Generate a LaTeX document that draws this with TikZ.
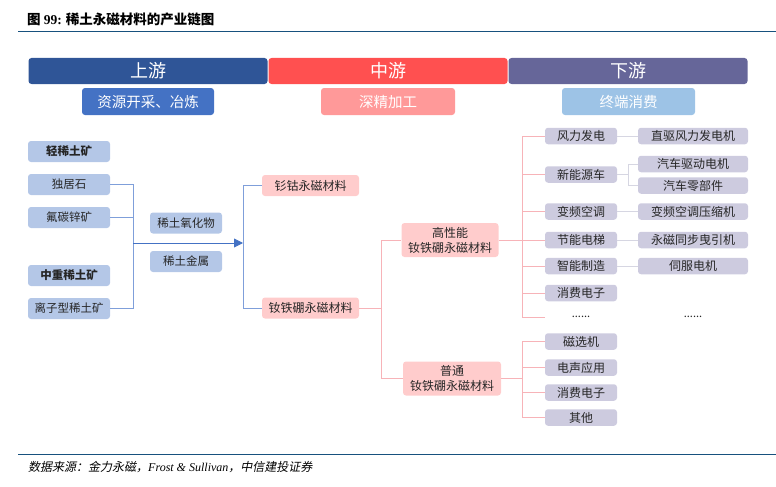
\documentclass[tikz,border=0pt]{standalone}
\usepackage{fontspec}
\setmainfont{Noto Sans CJK SC}
\newfontfamily\latinserif{Liberation Serif}
\newfontfamily\cjkslant{Noto Sans CJK SC}[FakeSlant=0.2]
\usetikzlibrary{arrows.meta}

\definecolor{upblue}{HTML}{2F5597}
\definecolor{midred}{HTML}{FF5050}
\definecolor{downpurple}{HTML}{666699}
\definecolor{subblue}{HTML}{4472C4}
\definecolor{subpink}{HTML}{FF9999}
\definecolor{subsky}{HTML}{9DC3E6}
\definecolor{orefill}{HTML}{B4C7E7}
\definecolor{magfill}{HTML}{FFCCCC}
\definecolor{appfill}{HTML}{CDCBDF}
\definecolor{oreline}{HTML}{7F9FDA}
\definecolor{magline}{HTML}{F7B3B8}
\definecolor{appline}{HTML}{D6D6E2}
\definecolor{rulecol}{HTML}{17517E}
\definecolor{txt}{HTML}{262626}

\begin{document}
\begin{tikzpicture}[x=1pt,y=-1pt,
    bar/.style={rounded corners=3pt,text=white,minimum width=239pt,minimum height=26pt,
      inner sep=0pt,font=\fontsize{18}{18}\selectfont},
    subbar/.style={rounded corners=3pt,text=white,minimum height=27pt,inner sep=0pt,
      font=\fontsize{14.5}{15}\selectfont},
    ore/.style={fill=orefill,rounded corners=3pt,minimum width=82pt,minimum height=21pt,
      inner sep=0pt,text=txt,font=\fontsize{11.5}{12}\selectfont},
    mag/.style={fill=magfill,rounded corners=3pt,minimum width=97pt,minimum height=21pt,
      inner sep=0pt,text=txt,align=center,font=\fontsize{12}{15}\selectfont},
    app/.style={fill=appfill,rounded corners=3pt,minimum width=72pt,minimum height=16.5pt,
      inner sep=0pt,text=txt,font=\fontsize{12}{12}\selectfont},
    appwide/.style={app,minimum width=110pt},
    dots/.style={minimum width=72pt,minimum height=8pt,inner sep=0pt,text=txt,
      font=\fontsize{11}{8}\selectfont},
    oreedge/.style={draw=oreline,line width=0.9pt},
    magedge/.style={draw=magline,line width=0.9pt},
    appedge/.style={draw=appline,line width=0.9pt}]
  \useasboundingbox (0,0) rectangle (776,487);

  % title and rules
  \node[anchor=west,inner sep=0pt,font=\fontsize{13.5}{14}\selectfont\bfseries] (title) at (27,19)
    {图 {\latinserif 99:} 稀土永磁材料的产业链图};
  \draw[rulecol,line width=1.8pt] (18,31.5) -- (776,31.5);
  \draw[rulecol,line width=1.4pt] (18,454.5) -- (776,454.5);
  \node[anchor=west,inner sep=0pt,font=\fontsize{12}{12}\selectfont] (source) at (28,467.5)
    {{\cjkslant 数据来源：金力永磁，}{\latinserif\itshape Frost \& Sullivan}{\cjkslant ，中信建投证券}};

  % headers
  \node[bar,fill=upblue] (up) at (148,71) {上游};
  \node[bar,fill=midred] (mid) at (388,71) {中游};
  \node[bar,fill=downpurple] (down) at (628,71) {下游};
  \node[subbar,fill=subblue,minimum width=132pt] (mining) at (148,101.5) {资源开采、冶炼};
  \node[subbar,fill=subpink,minimum width=134pt] (process) at (388,101.5) {深精加工};
  \node[subbar,fill=subsky,minimum width=133pt] (consume) at (628.5,101.5) {终端消费};

  % upstream
  \node[ore,font=\fontsize{11.5}{12}\selectfont\bfseries] (light) at (69,151.5) {轻稀土矿};
  \node[ore] (monazite) at (69,184.5) {独居石};
  \node[ore] (bastnaesite) at (69,217.5) {氟碳锌矿};
  \node[ore,font=\fontsize{11.5}{12}\selectfont\bfseries] (heavy) at (69,275.5) {中重稀土矿};
  \node[ore] (ionic) at (69,308.5) {离子型稀土矿};
  \node[ore,minimum width=72pt] (oxide) at (186,223) {稀土氧化物};
  \node[ore,minimum width=72pt] (metal) at (186,261.5) {稀土金属};

  \coordinate (jore) at (133,243);
  \coordinate (jmag) at (243,243);
  \draw[oreedge] (monazite.east) -| (jore);
  \draw[oreedge] (bastnaesite.east) -| (jore);
  \draw[oreedge] (ionic.east) -| (jore);
  \draw[oreedge,-{Triangle[length=9pt,width=9pt]},subblue] (jore) -- (jmag);

  % midstream
  \node[mag] (smco) at (310.5,185.5) {钐钴永磁材料};
  \node[mag] (ndfeb) at (310.5,308) {钕铁硼永磁材料};
  \node[mag,minimum height=34pt] (highperf) at (450,240) {高性能\\钕铁硼永磁材料};
  \node[mag,minimum height=34pt,minimum width=98pt] (common) at (452,378.5) {普通\\钕铁硼永磁材料};
  \draw[oreedge] (jmag) |- (smco.west);
  \draw[oreedge] (jmag) |- (ndfeb.west);

  \coordinate (jnd) at (381,308);
  \draw[magedge] (ndfeb.east) -- (jnd);
  \draw[magedge] (jnd) |- (highperf.west);
  \draw[magedge] (jnd) |- (common.west);

  % downstream, high performance
  \node[app] (wind) at (581,136) {风力发电};
  \node[app] (car) at (581,174.5) {新能源车};
  \node[app] (aircon) at (581,211.5) {变频空调};
  \node[app] (lift) at (581,240) {节能电梯};
  \node[app] (robot) at (581,266) {智能制造};
  \node[app] (phone) at (581,293) {消费电子};
  \node[dots] (more) at (581,317) {......};

  \node[appwide] (windmotor) at (693,136) {直驱风力发电机};
  \node[appwide] (drivemotor) at (693,164) {汽车驱动电机};
  \node[appwide] (carparts) at (693,185.5) {汽车零部件};
  \node[appwide] (compressor) at (693,211.5) {变频空调压缩机};
  \node[appwide] (traction) at (693,240) {永磁同步曳引机};
  \node[appwide] (servo) at (693,266) {伺服电机};
  \node[dots,minimum width=110pt] (moreuse) at (693,317) {......};

  \coordinate (jhigh) at (522,240);
  \draw[magedge] (highperf.east) -- (jhigh);
  \draw[magedge] (jhigh) |- (wind.west);
  \draw[magedge] (jhigh) |- (car.west);
  \draw[magedge] (jhigh) |- (aircon.west);
  \draw[magedge] (jhigh) |- (lift.west);
  \draw[magedge] (jhigh) |- (robot.west);
  \draw[magedge] (jhigh) |- (phone.west);
  \draw[magedge] (jhigh) |- (more.west);

  \coordinate (jcar) at (628,174.5);
  \draw[appedge] (wind.east) -- (windmotor.west);
  \draw[appedge] (car.east) -- (jcar);
  \draw[appedge] (jcar) |- (drivemotor.west);
  \draw[appedge] (jcar) |- (carparts.west);
  \draw[appedge] (aircon.east) -- (compressor.west);
  \draw[appedge] (lift.east) -- (traction.west);
  \draw[appedge] (robot.east) -- (servo.west);

  % downstream, common
  \node[app] (separator) at (581,341.5) {磁选机};
  \node[app] (acoustic) at (581,367.5) {电声应用};
  \node[app] (gadget) at (581,392.5) {消费电子};
  \node[app] (other) at (581,417.5) {其他};

  \coordinate (jcommon) at (522,378.5);
  \draw[magedge] (common.east) -- (jcommon);
  \draw[magedge] (jcommon) |- (separator.west);
  \draw[magedge] (jcommon) |- (acoustic.west);
  \draw[magedge] (jcommon) |- (gadget.west);
  \draw[magedge] (jcommon) |- (other.west);
\end{tikzpicture}
\end{document}
